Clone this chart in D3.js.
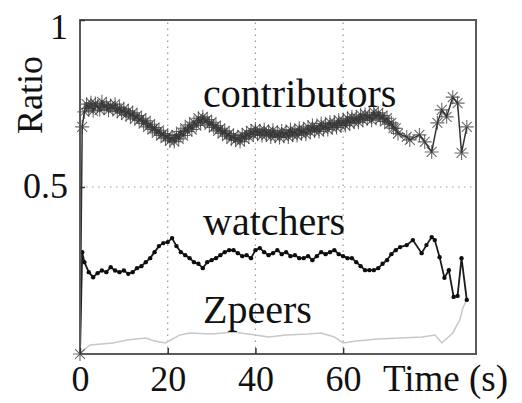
<!DOCTYPE html>
<html>
<head>
<meta charset="utf-8">
<script src="https://cdn.jsdelivr.net/npm/d3@7/dist/d3.min.js"></script>
<style>
  html, body { margin: 0; padding: 0; background: #fff; }
  svg { display: block; }
  text { font-family: "Liberation Serif", "DejaVu Serif", serif; fill: #111; }
</style>
</head>
<body>
<svg id="chart" width="522" height="403"></svg>
<script>
// Share of peers in each role over the first 90 seconds.

// contributors: sampled every half second up to 72.5 s, then irregular samples
const contribTime = [0, 0.5].concat(d3.range(1, 73, 0.5), [74.5, 75.2, 77.4, 78.6, 80.2, 81.5, 82.5, 83.6, 85.0, 86.1, 87.0, 88.2]);
const contribValue = [
  0, 0.68,
  0.725, 0.748, 0.735, 0.752, 0.728, 0.750, 0.742, 0.731, 0.755, 0.738,
  0.746, 0.730, 0.744, 0.735, 0.748, 0.726, 0.738, 0.722, 0.734, 0.716,
  0.728, 0.712, 0.722, 0.704, 0.714, 0.700, 0.706, 0.690, 0.698, 0.680,
  0.688, 0.672, 0.678, 0.662, 0.670, 0.654, 0.660, 0.646, 0.654, 0.638,
  0.648, 0.636, 0.656, 0.644, 0.666, 0.654, 0.676, 0.666, 0.686, 0.672,
  0.694, 0.684, 0.706, 0.692, 0.710, 0.696, 0.702, 0.686, 0.694, 0.678,
  0.684, 0.668, 0.676, 0.660, 0.668, 0.652, 0.660, 0.644, 0.654, 0.640,
  0.648, 0.636, 0.656, 0.644, 0.662, 0.650, 0.668, 0.656, 0.674, 0.658,
  0.668, 0.654, 0.672, 0.656, 0.666, 0.650, 0.670, 0.652, 0.662, 0.648,
  0.668, 0.652, 0.664, 0.650, 0.672, 0.656, 0.668, 0.654, 0.676, 0.660,
  0.672, 0.658, 0.680, 0.664, 0.684, 0.668, 0.680, 0.666, 0.690, 0.674,
  0.686, 0.672, 0.694, 0.678, 0.692, 0.678, 0.700, 0.684, 0.698, 0.684,
  0.706, 0.690, 0.710, 0.694, 0.708, 0.694, 0.716, 0.700, 0.718, 0.704,
  0.714, 0.700, 0.724, 0.708, 0.722, 0.704, 0.714, 0.696, 0.706, 0.688,
  0.692, 0.676, 0.676, 0.660,
  0.650, 0.641, 0.656, 0.635, 0.605, 0.692, 0.731, 0.710, 0.769, 0.751, 0.602, 0.680
];

// watchers: sampled every second up to 73 s, then irregular samples
const watchTime = [0, 0.5].concat(d3.range(1, 74, 1), [74.5, 75.9, 77.9, 79.0, 80.2, 80.9, 82.0, 83.1, 84.1, 85.2, 86.1, 87.0, 88.2]);
const watchValue = [
  0, 0.305,
  0.275, 0.245, 0.230, 0.242, 0.250, 0.245, 0.260, 0.250, 0.245, 0.250,
  0.240, 0.245, 0.257, 0.263, 0.275, 0.287, 0.305, 0.323, 0.332, 0.335,
  0.347, 0.323, 0.305, 0.296, 0.287, 0.275, 0.270, 0.257, 0.275, 0.281,
  0.287, 0.296, 0.305, 0.311, 0.311, 0.302, 0.293, 0.296, 0.287, 0.311,
  0.317, 0.305, 0.296, 0.302, 0.311, 0.299, 0.305, 0.293, 0.296, 0.287,
  0.287, 0.293, 0.281, 0.293, 0.305, 0.299, 0.305, 0.311, 0.299, 0.293,
  0.287, 0.287, 0.275, 0.263, 0.251, 0.251, 0.251, 0.257, 0.270, 0.281,
  0.299, 0.311, 0.320,
  0.326, 0.341, 0.302, 0.326, 0.350, 0.341, 0.290, 0.228, 0.251, 0.171, 0.174, 0.287, 0.162
];

// Zpeers
const zpeerTime  = [0, 2.3, 7.5, 10.7, 15, 17, 19.5, 22.8, 25, 30, 35, 40, 43, 47, 52, 55, 58, 60, 63, 68, 73, 78, 81, 82.5, 85, 86.6, 87.3, 88.2];
const zpeerValue = [0.003, 0.027, 0.033, 0.042, 0.048, 0.039, 0.033, 0.057, 0.063, 0.060, 0.066, 0.057, 0.051, 0.057, 0.060, 0.063, 0.051, 0.033, 0.039, 0.045, 0.048, 0.051, 0.057, 0.033, 0.063, 0.102, 0.138, 0.162];

const xTicks = [0, 20, 40, 60];
const yTicks = [0.5, 1];
const seriesLabels = ["contributors", "watchers", "Zpeers"];

const svg = d3.select("#chart");
const plot = { left: 80, right: 476, top: 20, bottom: 354 };

const x = d3.scaleLinear().domain([0, 90.3]).range([plot.left, plot.right]);
const y = d3.scaleLinear().domain([0, 1]).range([plot.bottom, plot.top]);

const zip = (ts, vs) => ts.map((t, i) => ({ t, v: vs[i] }));
const contrib = zip(contribTime, contribValue);
const watch = zip(watchTime, watchValue);
const zpeer = zip(zpeerTime, zpeerValue);

const defs = svg.append("defs");
defs.append("filter").attr("id", "soft")
  .append("feGaussianBlur").attr("stdDeviation", 0.6);

// dotted grid
const grid = svg.append("g").attr("stroke", "#999").attr("stroke-width", 1.2)
  .attr("stroke-dasharray", "1.5,4.5");
grid.selectAll("line.v").data([20, 40, 60]).join("line")
  .attr("x1", d => x(d)).attr("x2", d => x(d))
  .attr("y1", plot.bottom).attr("y2", plot.top);
grid.selectAll("line.h").data([0.5]).join("line")
  .attr("x1", plot.left).attr("x2", plot.right)
  .attr("y1", d => y(d)).attr("y2", d => y(d));

// series
const line = d3.line().x(d => x(d.t)).y(d => y(d.v));
const data = svg.append("g").attr("filter", "url(#soft)");

data.append("path").datum(zpeer).attr("d", line)
  .attr("fill", "none").attr("stroke", "#c8c8c8").attr("stroke-width", 1.5);

data.append("path").datum(watch).attr("d", line)
  .attr("fill", "none").attr("stroke", "#1a1a1a").attr("stroke-width", 1.8);
data.selectAll("circle.w").data(watch.slice(1)).join("circle")
  .attr("cx", d => x(d.t)).attr("cy", d => y(d.v)).attr("r", 2.2)
  .attr("fill", "#111");

data.append("path").datum(contrib).attr("d", line)
  .attr("fill", "none").attr("stroke", "#333").attr("stroke-width", 1.5);
const r = 7, q = r * 0.707;
const star = `M${-r},0H${r}M0,${-r}V${r}M${-q},${-q}L${q},${q}M${-q},${q}L${q},${-q}`;
data.selectAll("path.c").data(contrib).join("path")
  .attr("transform", d => `translate(${x(d.t)},${y(d.v)})`)
  .attr("d", star).attr("fill", "none")
  .attr("stroke", "#3a3a3a").attr("stroke-width", 1.1).attr("stroke-opacity", 0.75);

// frame
svg.append("rect")
  .attr("x", plot.left).attr("y", plot.top)
  .attr("width", plot.right - plot.left).attr("height", plot.bottom - plot.top)
  .attr("fill", "none").attr("stroke", "#5a5a5a").attr("stroke-width", 2);

// axes
const xAxis = svg.append("g").attr("transform", `translate(0,${plot.bottom})`)
  .call(d3.axisBottom(x).tickValues(xTicks).tickSize(-6).tickSizeOuter(0).tickFormat(d3.format("d")));
xAxis.select(".domain").remove();
xAxis.selectAll(".tick line").attr("stroke", "#333").attr("stroke-width", 1.5);
xAxis.selectAll(".tick text").attr("y", 37).attr("dy", 0)
  .attr("font-size", 36).attr("fill", "#111");

const yAxis = svg.append("g").attr("transform", `translate(${plot.left},0)`)
  .call(d3.axisLeft(y).tickValues(yTicks).tickSize(-5).tickSizeOuter(0).tickFormat(d => d === 1 ? "1" : "0.5"));
yAxis.select(".domain").remove();
yAxis.selectAll(".tick line").attr("stroke", "#333").attr("stroke-width", 1.5);
yAxis.selectAll(".tick text").attr("x", -12).attr("dy", d => d === 1 ? 18 : 10)
  .attr("font-size", 36).attr("fill", "#111");

// axis titles
svg.append("text").attr("x", 383).attr("y", 391).attr("font-size", 37).text("Time (s)");
svg.append("text").attr("transform", "translate(42,95) rotate(-90)")
  .attr("text-anchor", "middle").attr("font-size", 36).text("Ratio");

// series labels
const labelPos = [[203, 107], [203, 235], [203, 323]];
svg.selectAll("text.series").data(seriesLabels).join("text")
  .attr("class", "series")
  .attr("x", (d, i) => labelPos[i][0]).attr("y", (d, i) => labelPos[i][1])
  .attr("font-size", 40).text(d => d);
</script>
</body>
</html>
